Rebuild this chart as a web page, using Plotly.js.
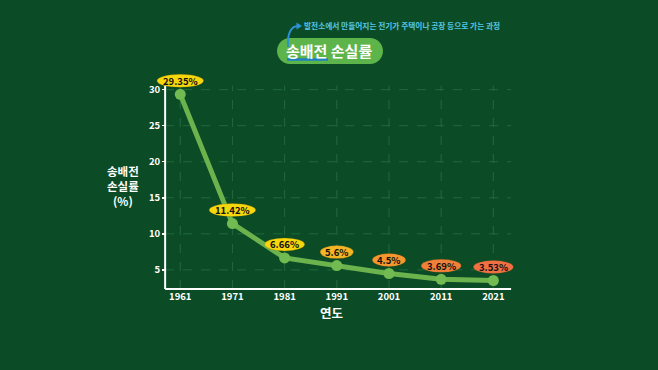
<!DOCTYPE html>
<html><head><meta charset="utf-8">
<script src="https://cdn.plot.ly/plotly-3.0.1.min.js"></script>
<style>html,body{margin:0;padding:0;background:#0b4c27;}#c{width:658px;height:370px;}</style>
</head><body><div id="c"></div>
<script>
const years = [1961, 1971, 1981, 1991, 2001, 2011, 2021];
const lossRate = [29.35, 11.42, 6.66, 5.6, 4.5, 3.69, 3.53];
const valueLabels = ['29.35%', '11.42%', '6.66%', '5.6%', '4.5%', '3.69%', '3.53%'];
const labelColors = ['#f6d70c', '#f6d70c', '#f6d70c', '#f6b524', '#f5962e', '#f3803a', '#f06f43'];
const yTicks = [5, 10, 15, 20, 25, 30];
const titleText = '송배전 손실률';
const subtitleText = '발전소에서 만들어지는 전기가 주택이나 공장 등으로 가는 과정';
const yTitle = '송배전<br>손실률<br>(%)';
const xTitle = '연도';

const yMin = 2.35, yAxisTop = 30.55, yRangeTop = 33.0;
const xAxisStart = 1958.1, xAxisEnd = 2024.4, xRangeStart = 1955.2, xRangeEnd = 2026.3;

const W = 658, H = 370, L = 150, R = 137, T = 68, B = 81;
const pw = W - L - R, ph = H - T - B;
const px = v => (v - L) / pw;
const py = v => (H - B - v) / ph;
const FONT = '"Noto Sans CJK KR", "Noto Sans", sans-serif';
const GRID = '#22693c';

const shapes = [];
const annotations = [];
// dashed gridlines limited to the axis box
years.forEach(yr => {
  shapes.push({type: 'line', xref: 'x', yref: 'y', x0: yr, x1: yr, y0: yMin, y1: yAxisTop,
    line: {color: GRID, width: 1, dash: 'dash'}, layer: 'below'});
});
yTicks.forEach(v => {
  shapes.push({type: 'line', xref: 'x', yref: 'y', x0: xAxisStart, x1: xAxisEnd, y0: v, y1: v,
    line: {color: GRID, width: 1, dash: 'dash'}, layer: 'below'});
});
// axis lines
shapes.push({type: 'line', xref: 'x', yref: 'y', x0: xAxisStart, x1: xAxisStart, y0: yMin, y1: yAxisTop,
  line: {color: '#ffffff', width: 2}});
shapes.push({type: 'line', xref: 'x', yref: 'paper', x0: xAxisStart, x1: xAxisEnd, y0: 0, y1: 0,
  line: {color: '#ffffff', width: 2}});

years.forEach((yr, i) => {
  const w = valueLabels[i].length * 6.6 + 7;
  shapes.push({type: 'circle', xref: 'x', yref: 'y', xsizemode: 'pixel', ysizemode: 'pixel',
    xanchor: yr, yanchor: lossRate[i], x0: -w / 2, x1: w / 2, y0: 7, y1: 20,
    fillcolor: labelColors[i], line: {color: 'rgba(120,80,0,0.35)', width: 0.6}, layer: 'above'});
  annotations.push({x: yr, y: lossRate[i], xref: 'x', yref: 'y', text: valueLabels[i], showarrow: false,
    xanchor: 'center', yanchor: 'middle',
    yshift: 13.5, font: {family: FONT, size: 9.5, color: '#111', weight: 700}});
});

// title pill
const x0 = 277, x1 = 383, y0 = 38, y1 = 64, r = 13;
const k = 0.55 * r;
const P = (a, b) => px(a) + ',' + py(b);
const pill = 'M ' + P(x0 + r, y0) + ' L ' + P(x1 - r, y0) +
  ' C ' + P(x1 - r + k, y0) + ' ' + P(x1, y0 + r - k) + ' ' + P(x1, y0 + r) +
  ' C ' + P(x1, y1 - r + k) + ' ' + P(x1 - r + k, y1) + ' ' + P(x1 - r, y1) +
  ' L ' + P(x0 + r, y1) +
  ' C ' + P(x0 + r - k, y1) + ' ' + P(x0, y1 - r + k) + ' ' + P(x0, y1 - r) +
  ' C ' + P(x0, y0 + r - k) + ' ' + P(x0 + r - k, y0) + ' ' + P(x0 + r, y0) + ' Z';
shapes.push({type: 'path', xref: 'paper', yref: 'paper', path: pill, fillcolor: '#5db44a', line: {width: 0}});
// underline under first word
shapes.push({type: 'line', xref: 'paper', yref: 'paper', x0: px(287), x1: px(328), y0: py(59.5), y1: py(59.5),
  line: {color: '#1f7fc4', width: 2.5}, layer: 'above'});
// curved arrow
shapes.push({type: 'path', xref: 'paper', yref: 'paper',
  path: 'M ' + P(288, 47) + ' C ' + P(287, 34) + ' ' + P(291, 26) + ' ' + P(298, 26),
  line: {color: '#2a92d6', width: 2}});
shapes.push({type: 'path', xref: 'paper', yref: 'paper',
  path: 'M ' + P(296.5, 22.5) + ' L ' + P(302, 26) + ' L ' + P(296.5, 29.5) + ' Z',
  fillcolor: '#2a92d6', line: {width: 0}});

annotations.push({xref: 'paper', yref: 'paper', x: px(329), y: py(50.5), xanchor: 'center', yanchor: 'middle',
  text: titleText, showarrow: false, font: {family: FONT, size: 15, color: '#ffffff', weight: 700}});
annotations.push({xref: 'paper', yref: 'paper', x: px(302), y: py(25.5), xanchor: 'left', yanchor: 'middle',
  text: subtitleText, showarrow: false, font: {family: FONT, size: 7.7, color: '#57c6e4', weight: 700}});
annotations.push({xref: 'paper', yref: 'paper', x: px(123), y: py(186), xanchor: 'center', yanchor: 'middle',
  text: yTitle, showarrow: false, align: 'center', font: {family: FONT, size: 11.5, color: '#ffffff', weight: 700}});
annotations.push({xref: 'paper', yref: 'paper', x: px(331), y: py(312), xanchor: 'center', yanchor: 'middle',
  text: xTitle, showarrow: false, font: {family: FONT, size: 12.5, color: '#ffffff', weight: 700}});

const trace = {x: years, y: lossRate, type: 'scatter', mode: 'lines+markers',
  line: {color: '#6cb34d', width: 5}, marker: {color: '#72bb52', size: 11}, cliponaxis: false, hoverinfo: 'none'};

const layout = {
  width: W, height: H, margin: {l: L, r: R, t: T, b: B},
  paper_bgcolor: '#0b4c27', plot_bgcolor: '#0b4c27', showlegend: false,
  xaxis: {range: [xRangeStart, xRangeEnd], tickvals: years, ticktext: years.map(String), showgrid: false,
    zeroline: false, showline: false, ticks: '', ticklabelstandoff: 0,
    tickfont: {family: FONT, size: 9.5, color: '#ffffff', weight: 700}, fixedrange: true},
  yaxis: {range: [yMin, yRangeTop], tickvals: yTicks, showgrid: false, anchor: 'free', position: 15 / pw,
    zeroline: false, showline: false, ticks: 'outside', ticklen: 3, tickcolor: '#ffffff', tickwidth: 1.5,
    tickfont: {family: FONT, size: 9.5, color: '#ffffff', weight: 700}, fixedrange: true},
  shapes: shapes, annotations: annotations
};
Plotly.newPlot('c', [trace], layout, {displayModeBar: false, staticPlot: true});
</script></body></html>
